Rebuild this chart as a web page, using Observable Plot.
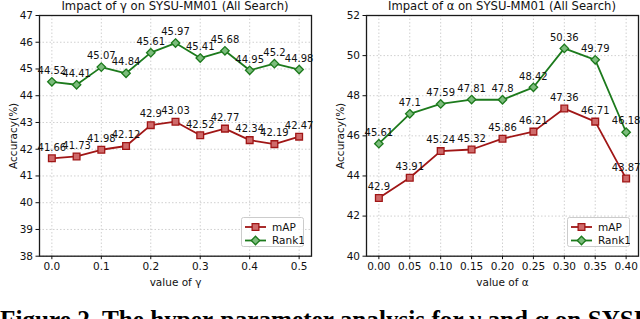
<!DOCTYPE html>
<html><head><meta charset="utf-8">
<script src="https://cdn.jsdelivr.net/npm/d3@7"></script>
<script src="https://cdn.jsdelivr.net/npm/@observablehq/plot@0.6"></script>
<style>
body{margin:0;background:#fff;}
#wrap{position:relative;width:640px;height:319px;overflow:hidden;font-family:"DejaVu Sans",sans-serif;background:#fff;}
.panel{position:absolute;top:0;}
.title{position:absolute;top:-1px;font-size:11.6px;color:#111;text-align:center;white-space:nowrap;transform:translateX(-50%);}
.legend{position:absolute;}
#caption{position:absolute;left:0;top:305.5px;font-family:"Liberation Serif","Times New Roman",serif;font-weight:bold;font-size:25.2px;white-space:nowrap;color:#000;}
</style></head><body>
<div id="wrap"></div>
<script>
// ---- data ----
const seriesNames = ["mAP", "Rank1"];
const gammaValues = [0, 0.05, 0.1, 0.15, 0.2, 0.25, 0.3, 0.35, 0.4, 0.45, 0.5];
const gammaMAP   = [41.66, 41.73, 41.98, 42.12, 42.9, 43.03, 42.52, 42.77, 42.34, 42.19, 42.47];
const gammaRank1 = [44.52, 44.41, 45.07, 44.84, 45.61, 45.97, 45.41, 45.68, 44.95, 45.2, 44.98];
const gammaXTicks = [0, 0.1, 0.2, 0.3, 0.4, 0.5];
const gammaYTicks = [38, 39, 40, 41, 42, 43, 44, 45, 46, 47];

const alphaValues = [0, 0.05, 0.1, 0.15, 0.2, 0.25, 0.3, 0.35, 0.4];
const alphaMAP   = [42.9, 43.91, 45.24, 45.32, 45.86, 46.21, 47.36, 46.71, 43.87];
const alphaRank1 = [45.61, 47.1, 47.59, 47.81, 47.8, 48.42, 50.36, 49.79, 46.18];
const alphaXTicks = [0, 0.05, 0.1, 0.15, 0.2, 0.25, 0.3, 0.35, 0.4];
const alphaYTicks = [40, 42, 44, 46, 48, 50, 52];

const titles = ["Impact of γ on SYSU-MM01 (All Search)", "Impact of α on SYSU-MM01 (All Search)"];
const xLabels = ["value of γ", "value of α"];
const yLabel = "Accuracy(%)";
const captionText = "Figure 2. The hyper-parameter analysis for γ and α on SYSU-MM01.";

// ---- styles ----
const strokeColors = {mAP: "#a01616", Rank1: "#1c7a1c"};
const fillColors = {mAP: "#cf6a6a", Rank1: "#7cbc7c"};
const symbols = {mAP: "square", Rank1: "diamond2"};

function rowsOf(xs, a, b) {
  const rows = [];
  xs.forEach((x, i) => {
    rows.push({x, v: a[i], series: "mAP"});
    rows.push({x, v: b[i], series: "Rank1"});
  });
  return rows;
}

function panel({rows, xDomain, yDomain, xTicks, yTicks, fmt, ml, mr, xLabel}) {
  const H = 300;
  return Plot.plot({
    width: 320, height: H,
    marginLeft: ml, marginRight: mr, marginTop: 15, marginBottom: H - 255.7,
    style: {fontFamily: "DejaVu Sans, sans-serif", fontSize: "10.5px", color: "#111", background: "transparent", overflow: "visible"},
    x: {domain: xDomain},
    y: {domain: yDomain},
    symbol: {domain: seriesNames, range: seriesNames.map(s => symbols[s])},
    marks: [
      Plot.gridX(xTicks, {stroke: "#d0d0d0", strokeOpacity: 1, strokeDasharray: "1.5,2"}),
      Plot.gridY(yTicks, {stroke: "#d0d0d0", strokeOpacity: 1, strokeDasharray: "1.5,2"}),
      Plot.frame({stroke: "#1a1a1a", strokeWidth: 1.3}),
      Plot.axisX(xTicks, {tickFormat: fmt, tickSize: 3.5, tickPadding: 3, label: xLabel, labelAnchor: "center", labelArrow: "none", labelOffset: 30, fontSize: 10.5}),
      Plot.axisY(yTicks, {tickSize: 3.5, tickPadding: 3, label: yLabel, labelAnchor: "center", labelArrow: "none", labelOffset: 30, fontSize: 10.5}),
      Plot.line(rows, {x: "x", y: "v", z: "series", stroke: d => strokeColors[d.series], strokeWidth: 1.8}),
      Plot.dot(rows, {x: "x", y: "v", symbol: "series", r: 3.8, fill: d => fillColors[d.series], stroke: d => strokeColors[d.series], strokeWidth: 1.3}),
      Plot.text(rows, {x: "x", y: "v", text: d => String(d.v), dy: -11, fontSize: 10, fill: "#111"})
    ]
  });
}

function legend(left, top) {
  const w = 63, h = 30;
  const svg = d3.create("svg").attr("width", w).attr("height", h).attr("class", "legend")
    .style("left", left + "px").style("top", top + "px");
  svg.append("rect").attr("x", 0.5).attr("y", 0.5).attr("width", w - 1).attr("height", h - 1)
    .attr("rx", 2).attr("fill", "#fff").attr("fill-opacity", 0.85).attr("stroke", "#ccc");
  seriesNames.forEach((s, i) => {
    const y = 10 + i * 13.5;
    svg.append("line").attr("x1", 4).attr("x2", 25).attr("y1", y).attr("y2", y)
      .attr("stroke", strokeColors[s]).attr("stroke-width", 1.8);
    const sym = d3.symbol(s === "mAP" ? d3.symbolSquare : d3.symbolDiamond2, Math.PI * 3.8 * 3.8);
    svg.append("path").attr("d", sym()).attr("transform", `translate(14.5,${y})`)
      .attr("fill", fillColors[s]).attr("stroke", strokeColors[s]).attr("stroke-width", 1.3);
    svg.append("text").attr("x", 31).attr("y", y + 3.8).attr("font-size", 10.5)
      .attr("font-family", "DejaVu Sans, sans-serif").attr("fill", "#111").text(s);
  });
  return svg.node();
}

const wrap = document.getElementById("wrap");

const p1 = panel({rows: rowsOf(gammaValues, gammaMAP, gammaRank1), xDomain: [-0.025, 0.525], yDomain: [38, 47],
  xTicks: gammaXTicks, yTicks: gammaYTicks, fmt: d3.format(".1f"), ml: 39, mr: 9, xLabel: xLabels[0]});
p1.classList.add("panel"); p1.style.left = "0px";
wrap.appendChild(p1);

const p2 = panel({rows: rowsOf(alphaValues, alphaMAP, alphaRank1), xDomain: [-0.02, 0.42], yDomain: [40, 52],
  xTicks: alphaXTicks, yTicks: alphaYTicks, fmt: d3.format(".2f"), ml: 46, mr: 2, xLabel: xLabels[1]});
p2.classList.add("panel"); p2.style.left = "320px";
wrap.appendChild(p2);

[[175, titles[0]], [502, titles[1]]].forEach(([cx, t]) => {
  const d = document.createElement("div");
  d.className = "title"; d.style.left = cx + "px"; d.textContent = t;
  wrap.appendChild(d);
});

wrap.appendChild(legend(241, 217));
wrap.appendChild(legend(567, 217));

const cap = document.createElement("div");
cap.id = "caption"; cap.textContent = captionText;
wrap.appendChild(cap);
</script>
</body></html>
